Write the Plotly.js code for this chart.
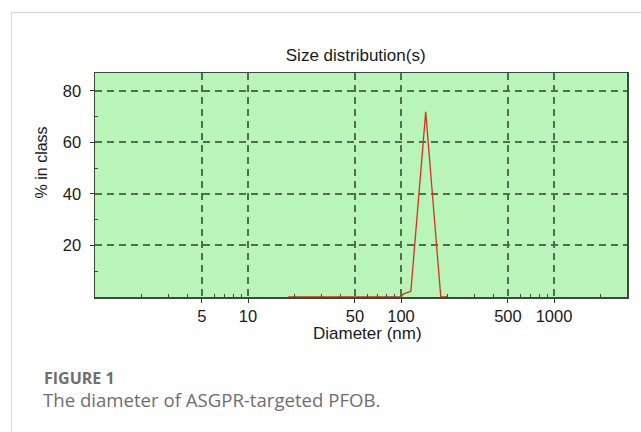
<!DOCTYPE html>
<html>
<head>
<meta charset="utf-8">
<script src="https://cdn.plot.ly/plotly-3.0.1.min.js"></script>
<style>
  html, body { margin: 0; padding: 0; background: #fff; }
  #wrap { position: relative; width: 641px; height: 432px; overflow: hidden; }
  #chart { position: absolute; left: 0; top: 0; width: 641px; height: 432px; }
  #frame { position: absolute; left: 11px; top: 12px; width: 700px; height: 500px;
           border-top: 1px solid #d6d6d6; border-left: 1px solid #d6d6d6; pointer-events: none; }
</style>
</head>
<body>
<div id="wrap">
  <div id="chart"></div>
  <div id="frame"></div>
</div>
<script>
// Data
const diameterNm = [18.3, 23, 29, 36, 45, 56, 70, 87, 100, 104, 116, 145, 182, 203];
const percentInClass = [0, 0, 0, 0, 0, 0, 0, 0, 0, 1.2, 2.2, 71.8, 0, 0];

const xTickVals = [5, 10, 50, 100, 500, 1000];
const xTickText = ['5', '10', '50', '100', '500', '1000'];
const xMinorVals = [2, 3, 4, 6, 7, 8, 9, 20, 30, 40, 60, 70, 80, 90, 200, 300, 400, 600, 700, 800, 900, 2000, 3000];
const yTickVals = [20, 40, 60, 80];
const yMinorVals = [10, 30, 50, 70];

const FONT = 'Liberation Sans, Arial, sans-serif';
const gridColor = '#4f704f';
const trace = {
  x: diameterNm,
  y: percentInClass,
  type: 'scatter',
  mode: 'lines',
  line: { color: '#d8301c', width: 1.3 },
  hoverinfo: 'skip'
};

const layout = {
  width: 641,
  height: 432,
  margin: { l: 95, r: 14, t: 73, b: 135 },
  paper_bgcolor: '#ffffff',
  plot_bgcolor: '#b9f5b9',
  showlegend: false,
  font: { family: FONT, color: '#1a1a1a', size: 16 },
  title: {
    text: 'Size distribution(s)',
    font: { family: FONT, size: 17, color: '#1a1a1a' },
    x: 0.49, xref: 'paper', xanchor: 'center',
    y: 1, yref: 'paper', yanchor: 'bottom', pad: { b: 12 }
  },
  xaxis: {
    type: 'log',
    range: [0, 3.477],
    tickmode: 'array',
    tickvals: xTickVals,
    ticktext: xTickText,
    ticks: 'outside',
    ticklen: 4,
    tickcolor: '#333',
    tickfont: { size: 16.5, color: '#1a1a1a' },
    showgrid: true,
    gridcolor: gridColor,
    gridwidth: 2,
    griddash: '7px,5px',
    zeroline: false,
    showline: true,
    linecolor: '#3c4a3c',
    linewidth: 1.5,
    mirror: true,
    minor: { tickmode: 'array', tickvals: xMinorVals, ticks: 'inside', ticklen: 3, tickcolor: '#444', showgrid: false },
    fixedrange: true
  },
  yaxis: {
    range: [0, 86.9],
    tickmode: 'array',
    tickvals: yTickVals,
    ticks: 'outside',
    ticklen: 4,
    tickcolor: '#333',
    tickfont: { size: 16.5, color: '#1a1a1a' },
    ticklabelstandoff: 5,
    showgrid: true,
    gridcolor: gridColor,
    gridwidth: 2,
    griddash: '7px,5px',
    zeroline: false,
    showline: true,
    linecolor: '#3c4a3c',
    linewidth: 1.5,
    mirror: true,
    minor: { tickmode: 'array', tickvals: yMinorVals, ticks: 'inside', ticklen: 3, tickcolor: '#444', showgrid: false },
    fixedrange: true
  },
  annotations: [
    {
      text: 'Diameter (nm)', xref: 'paper', yref: 'paper',
      x: 0.512, y: -0.111, xanchor: 'center', yanchor: 'top', showarrow: false,
      font: { family: FONT, size: 17, color: '#1a1a1a' }
    },
    {
      text: '% in class', xref: 'paper', yref: 'paper',
      x: -0.1, y: 0.6, xanchor: 'center', yanchor: 'middle', textangle: -90, showarrow: false,
      font: { family: FONT, size: 16, color: '#1a1a1a' }
    },
    {
      text: '<b>FIGURE 1</b>', xref: 'paper', yref: 'paper',
      x: -0.1, y: -0.36, xanchor: 'left', yanchor: 'middle', showarrow: false,
      font: { family: 'Open Sans, sans-serif', size: 16, color: '#6e6e6e' }
    },
    {
      text: 'The diameter of ASGPR-targeted PFOB.', xref: 'paper', yref: 'paper',
      x: -0.101, y: -0.457, xanchor: 'left', yanchor: 'middle', showarrow: false,
      font: { family: 'Open Sans, sans-serif', size: 18.6, color: '#6e6e6e' }
    }
  ]
};

Plotly.newPlot('chart', [trace], layout, { displayModeBar: false, staticPlot: true });
</script>
</body>
</html>
